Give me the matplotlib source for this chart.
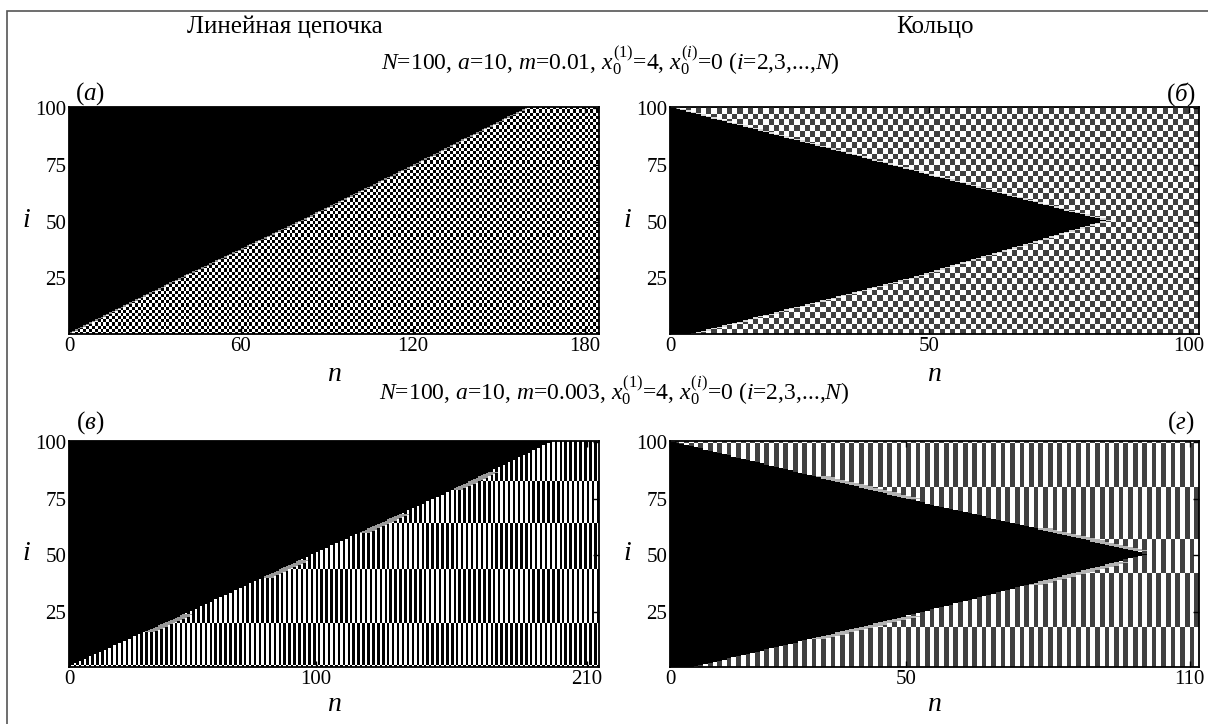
import numpy as np
import matplotlib.pyplot as plt
from matplotlib.patches import Rectangle

plt.rcParams['font.family'] = ['Liberation Serif', 'DejaVu Serif']
plt.rcParams['mathtext.fontset'] = 'custom'
plt.rcParams['mathtext.rm'] = 'Liberation Serif'
plt.rcParams['mathtext.it'] = 'Liberation Serif:italic'

# (а) linear chain, m=0.01 : front of the black region
n_max_a = 185
front_a_n = [0, 40, 80, 120, 160, 185]
front_a_i = [1, 26, 50, 75, 100.5, 100.5]

# (б) ring, m=0.01 : upper and lower edges of the black wedge
n_max_b = 102
top_b_n = [0, 46, 84]
top_b_i = [100.5, 73, 50.5]
bot_b_n = [0, 4, 46, 84]
bot_b_i = [0, 0.5, 25, 50.5]

# (в) linear chain, m=0.003 : front and phase walls of the stripes
n_max_c = 215
front_c_n = [0, 49, 94, 150, 196, 215]
front_c_i = [1, 25, 48, 76, 100.5, 100.5]
walls_c = [1.5, 20, 44, 64, 83]

# (г) ring, m=0.003
n_max_d = 112
top_d_n = [0, 50, 101]
top_d_i = [100.5, 75, 50.5]
bot_d_n = [0, 5, 50, 101]
bot_d_i = [0, 0.5, 23, 50.5]
walls_d = [18, 42, 57, 80, 99.5]

i_rows = np.arange(0.5, 100.5, 0.1) + 0.05


def grid(n_max):
    I, Nn = np.meshgrid(i_rows, np.arange(n_max) + 0.5, indexing='ij')
    return I, Nn


def pattern(I, Nn, lo, cell_h=None, walls=None):
    if walls is None:
        par = (np.floor(Nn) + np.floor(I / cell_h)) % 2
    else:
        par = (np.floor(Nn) + np.searchsorted(walls, I)) % 2
    return np.where(par == 0, lo, 1.0)


def near_walls(I, walls, d):
    m = np.zeros_like(I, dtype=bool)
    for w in walls:
        m |= np.abs(I - w) < d
    return m


def chain_img(n_max, fn, fi, lo, cell_h=None, walls=None, g=1, gray=0.6):
    I, Nn = grid(n_max)
    img = pattern(I, Nn, lo, cell_h, walls)
    front = np.interp(Nn, fn, fi)
    front_prev = np.interp(Nn - g, fn, fi)
    band = (I > front_prev) & (I <= front)
    if walls is not None:
        band &= near_walls(I, walls[1:], 4)
    img[band] = gray
    img[I > front] = 0.0
    return img


def ring_img(n_max, tn, ti, bn, bi, lo, cell_h=None, walls=None, g=1, gray=0.85):
    I, Nn = grid(n_max)
    img = pattern(I, Nn, lo, cell_h, walls)
    top = np.interp(Nn, tn, ti)
    bot = np.interp(Nn, bn, bi)
    top_p = np.interp(Nn - g, tn, ti, left=100.5)
    bot_p = np.interp(Nn - g, bn, bi, left=0)
    band = ((I > bot_p) & (I < top_p)) & ~((I > bot) & (I < top))
    if walls is not None:
        band &= near_walls(I, walls[:-1], 5)
    img[band] = gray
    img[(I > bot) & (I < top)] = 0.0
    return img


img_a = chain_img(n_max_a, front_a_n, front_a_i, 0.0, cell_h=1.4, g=1, gray=0.55)
img_b = ring_img(n_max_b, top_b_n, top_b_i, bot_b_n, bot_b_i, 0.25, cell_h=2.5, g=1)
img_c = chain_img(n_max_c, front_c_n, front_c_i, 0.0, walls=walls_c, g=4, gray=0.6)
img_d = ring_img(n_max_d, top_d_n, top_d_i, bot_d_n, bot_d_i, 0.25, walls=walls_d, g=3, gray=0.7)

W, H = 1208, 724
fig = plt.figure(figsize=(W / 100, H / 100), dpi=100)


def px_axes(x0, y0, x1, y1):
    return fig.add_axes([x0 / W, 1 - y1 / H, (x1 - x0) / W, (y1 - y0) / H])


panels = [
    (px_axes(69, 107, 599, 334), img_a, n_max_a, [0, 60, 120, 180], -0.18),
    (px_axes(670, 107, 1199, 334), img_b, n_max_b, [0, 50, 100], -0.18),
    (px_axes(69, 441, 599, 667), img_c, n_max_c, [0, 100, 210], -0.168),
    (px_axes(670, 441, 1199, 667), img_d, n_max_d, [0, 50, 110], -0.168),
]

for ax, img, nmax, xt, ny in panels:
    ax.imshow(img, cmap='gray', vmin=0, vmax=1, origin='lower', aspect='auto',
              interpolation='nearest', extent=[0, nmax, 0.5, 100.5])
    ax.set_xlim(0, nmax)
    ax.set_ylim(0.5, 100.5)
    ax.set_xticks(xt)
    ax.set_yticks([25, 50, 75, 100])
    ax.tick_params(direction='in', length=4, width=1, labelsize=15, pad=2,
                   right=True, top=True)
    for s in ax.spines.values():
        s.set_linewidth(1.3)
    ax.set_xlabel('$n$', fontsize=20, va='center')
    ax.xaxis.set_label_coords(0.5, ny)
    ax.set_ylabel('$i$', fontsize=20, rotation=0, va='center', ha='center')
    ax.yaxis.set_label_coords(-0.08, 0.5)


def ftext(x, y, s, **kw):
    fig.text(x / W, 1 - y / H, s, ha='center', va='center', **kw)


ftext(285, 27, 'Линейная цепочка', fontsize=18)
ftext(935, 27, 'Кольцо', fontsize=18)
ftext(610, 61, r'$N$=100, $a$=10, $m$=0.01, $x_0^{(1)}$=4, $x_0^{(i)}$=0 ($i$=2,3,...,$N$)', fontsize=17)
ftext(614, 391, r'$N$=100, $a$=10, $m$=0.003, $x_0^{(1)}$=4, $x_0^{(i)}$=0 ($i$=2,3,...,$N$)', fontsize=17)
ftext(90, 94, r'($\mathit{а}$)', fontsize=18)
ftext(1181, 94, r'($\mathit{б}$)', fontsize=18)
ftext(90, 423, r'($\mathit{в}$)', fontsize=18)
ftext(1181, 423, r'($\mathit{г}$)', fontsize=18)

fig.patches.append(Rectangle((7 / W, -0.05), 1.1, 1 - 11 / H + 0.05, transform=fig.transFigure,
                             fill=False, edgecolor='#555555', linewidth=1.2))

fig.savefig('out.png', dpi=100)
